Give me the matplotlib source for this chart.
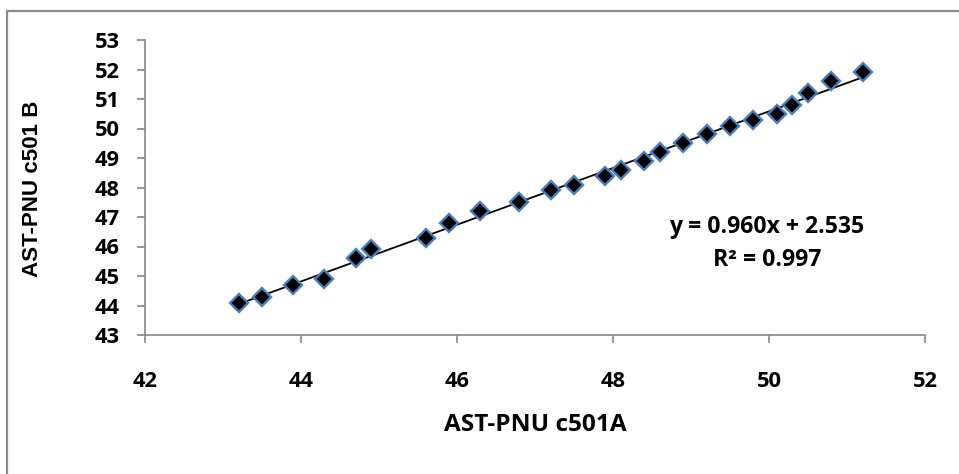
import numpy as np
import matplotlib
matplotlib.use("Agg")
import matplotlib.pyplot as plt
from matplotlib.lines import Line2D

x_vals = [43.2, 43.5, 43.9, 44.3, 44.7, 44.9, 45.6, 45.9, 46.3, 46.8, 47.2, 47.5,
          47.9, 48.1, 48.4, 48.6, 48.9, 49.2, 49.5, 49.8, 50.1, 50.3, 50.5, 50.8, 51.2]
y_vals = [44.1, 44.3, 44.7, 44.9, 45.6, 45.9, 46.3, 46.8, 47.2, 47.5, 47.9, 48.1,
          48.4, 48.6, 48.9, 49.2, 49.5, 49.8, 50.1, 50.3, 50.5, 50.8, 51.2, 51.6, 51.9]
x_ticks = [42, 44, 46, 48, 50, 52]
y_ticks = [43, 44, 45, 46, 47, 48, 49, 50, 51, 52, 53]
x_label = "AST-PNU c501A"
y_label = "AST-PNU c501 B"
eq_line1 = "y = 0.960x + 2.535"
eq_line2 = "R² = 0.997"

W, H = 959, 474
FONT = "Open Sans"
plt.rcParams["font.family"] = [FONT, "DejaVu Sans"]
plt.rcParams["font.weight"] = "bold"

fig = plt.figure(figsize=(W / 100, H / 100), dpi=100)
ax = fig.add_axes([145 / W, 1 - 335 / H, (925 - 145) / W, (335 - 40) / H])

x = np.array(x_vals)
y = np.array(y_vals)
slope, intercept = np.polyfit(x, y, 1)
xl = np.array([x.min(), x.max()])
ax.plot(xl, slope * xl + intercept, color="black", lw=1.3, zorder=2)
ax.plot(x, y, linestyle="none", marker="D", ms=9.5, mfc="black",
        mec="#4A7EBB", mew=1.7, zorder=3)

ax.set_xlim(42, 52)
ax.set_ylim(43, 53)
ax.set_xticks(x_ticks)
ax.set_yticks(y_ticks)
for s in ["top", "right"]:
    ax.spines[s].set_visible(False)
for s in ["left", "bottom"]:
    ax.spines[s].set_color("#868686")
    ax.spines[s].set_linewidth(1.2)
ax.tick_params(axis="both", direction="out", length=6, width=1.2, color="#868686",
               labelsize=14)
ax.tick_params(axis="x", pad=20)
ax.tick_params(axis="y", pad=12)

tx = fig.text(535 / W, 1 - 425 / H, x_label, ha="center", va="center",
              fontweight="bold", fontsize=14)
ty = fig.text(33 / W, 1 - 189 / H, y_label, ha="center", va="center", rotation=90,
              fontfamily="Liberation Sans", fontweight="bold", fontsize=14)
t1 = fig.text(767 / W, 1 - 227 / H, eq_line1, ha="center", va="center",
              fontweight="bold", fontsize=14)
t2 = fig.text(767 / W, 1 - 260 / H, eq_line2, ha="center", va="center",
              fontweight="bold", fontsize=14)

# scale text sizes so their widths match the reference layout
fig.canvas.draw()
r = fig.canvas.get_renderer()
for t, target, horiz in [(tx, 183, True), (ty, 177, False), (t1, 196, True), (t2, 109, True)]:
    bb = t.get_window_extent(r)
    cur = bb.width if horiz else bb.height
    t.set_fontsize(t.get_fontsize() * target / cur)
lab = ax.get_yticklabels()[-1]
w53 = lab.get_window_extent(r).width
ax.tick_params(axis="both", labelsize=14 * 25 / w53)

# outer chart border
fig.add_artist(Line2D([6.5 / W, 6.5 / W], [-0.1, 1 - 11 / H], color="#8c8c8c", lw=1.6,
                      transform=fig.transFigure))
fig.add_artist(Line2D([6.5 / W, 1.1], [1 - 11 / H, 1 - 11 / H], color="#8c8c8c", lw=1.6,
                      transform=fig.transFigure))

fig.savefig("out.png", dpi=100)
